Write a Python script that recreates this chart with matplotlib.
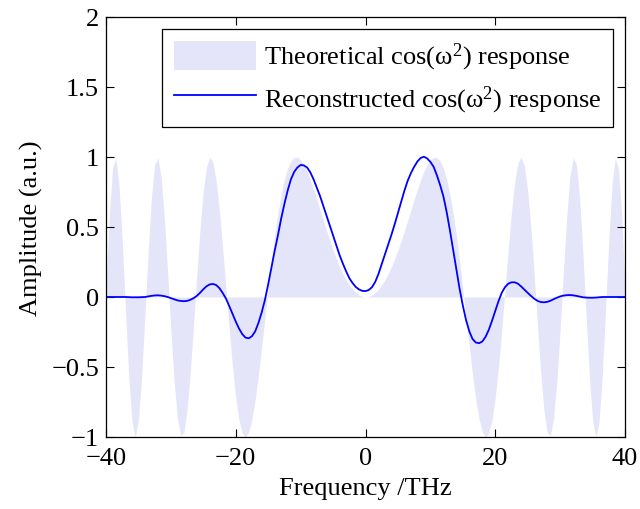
import numpy as np
import matplotlib
matplotlib.use("Agg")
import matplotlib.pyplot as plt

plt.rcParams['font.family'] = ['Liberation Serif', 'DejaVu Serif']
plt.rcParams['mathtext.fontset'] = 'custom'
plt.rcParams['mathtext.rm'] = 'Liberation Serif'
plt.rcParams['mathtext.it'] = 'Liberation Serif:italic'
plt.rcParams['mathtext.default'] = 'rm'

# frequency sample positions (THz)
freq = np.linspace(-40, 40, 161)

theoretical = [
    0.071, 0.578, 0.914, 0.994, 0.803, 0.404, -0.094, -0.563, -0.888, -1.000,
    -0.879, -0.563, -0.129, 0.327, 0.709, 0.945, 0.994, 0.856, 0.564, 0.177,
    -0.234, -0.600, -0.865, -0.991, -0.968, -0.805, -0.533, -0.195, 0.163, 0.493,
    0.760, 0.933, 0.999, 0.959, 0.822, 0.607, 0.341, 0.050, -0.239, -0.501,
    -0.719, -0.879, -0.973, -1.000, -0.963, -0.869, -0.730, -0.555, -0.357, -0.149,
    0.059, 0.258, 0.441, 0.601, 0.735, 0.842, 0.921, 0.971, 0.996, 0.998,
    0.980, 0.945, 0.896, 0.836, 0.769, 0.697, 0.622, 0.547, 0.474, 0.403,
    0.336, 0.274, 0.217, 0.167, 0.123, 0.086, 0.055, 0.031, 0.014, 0.003,
    0.000,
    0.003, 0.014, 0.031, 0.055, 0.086, 0.123, 0.167, 0.217, 0.274, 0.336,
    0.403, 0.474, 0.547, 0.622, 0.697, 0.769, 0.836, 0.896, 0.945, 0.980,
    0.998, 0.996, 0.971, 0.921, 0.842, 0.735, 0.601, 0.441, 0.258, 0.059,
    -0.149, -0.357, -0.555, -0.730, -0.869, -0.963, -1.000, -0.973, -0.879, -0.719,
    -0.501, -0.239, 0.050, 0.341, 0.607, 0.822, 0.959, 0.999, 0.933, 0.760,
    0.493, 0.163, -0.195, -0.533, -0.805, -0.968, -0.991, -0.865, -0.600, -0.234,
    0.177, 0.564, 0.856, 0.994, 0.945, 0.709, 0.327, -0.129, -0.563, -0.879,
    -1.000, -0.888, -0.563, -0.094, 0.404, 0.803, 0.994, 0.914, 0.578, 0.071,
]

reconstructed = [
    # -40 .. -34.5
    0.000, 0.000, 0.000, 0.000, 0.000, 0.000, 0.000, -0.001, -0.002, -0.002, -0.002, -0.001,
    # -34 .. -0.5
    0.000, 0.004, 0.008, 0.011, 0.012, 0.010, 0.006, 0.000, -0.008, -0.016,
    -0.024, -0.028, -0.030, -0.028, -0.020, -0.008, 0.008, 0.030, 0.055, 0.077,
    0.090, 0.093, 0.085, 0.062, 0.028, -0.012, -0.065, -0.120, -0.175, -0.225,
    -0.265, -0.290, -0.295, -0.280, -0.245, -0.185, -0.110, -0.020, 0.090, 0.210,
    0.330, 0.440, 0.560, 0.665, 0.760, 0.840, 0.893, 0.925, 0.943, 0.940,
    0.925, 0.890, 0.840, 0.780, 0.720, 0.650, 0.580, 0.510, 0.440, 0.370,
    0.300, 0.240, 0.185, 0.135, 0.100, 0.072, 0.054, 0.044,
    # 0
    0.042,
    # 0.5 .. 36
    0.050, 0.070, 0.108, 0.165, 0.235, 0.305, 0.375, 0.445, 0.520, 0.600,
    0.680, 0.760, 0.830, 0.885, 0.930, 0.968, 0.993, 1.002, 0.990, 0.965,
    0.930, 0.870, 0.800, 0.720, 0.610, 0.480, 0.340, 0.200, 0.060, -0.060,
    -0.165, -0.245, -0.300, -0.325, -0.330, -0.318, -0.285, -0.235, -0.170, -0.100,
    -0.030, 0.030, 0.070, 0.095, 0.105, 0.105, 0.095, 0.075, 0.052, 0.030,
    0.008, -0.012, -0.027, -0.036, -0.038, -0.035, -0.027, -0.016, -0.005, 0.004,
    0.010, 0.013, 0.014, 0.012, 0.008, 0.003, -0.002, -0.004, -0.005, -0.005,
    -0.004, -0.002,
    # 36.5 .. 40
    0.000, 0.000, 0.000, 0.000, 0.000, 0.000, 0.000, 0.000,
]

xticks = [-40, -20, 0, 20, 40]
xticklabels = ['\u221240', '\u221220', '0', '20', '40']
yticks = [-1, -0.5, 0, 0.5, 1, 1.5, 2]
yticklabels = ['\u22121', '\u22120.5', '0', '0.5', '1', '1.5', '2']

fig = plt.figure(figsize=(6.4, 5.1), dpi=100)
ax = fig.add_axes([106/640, 1-438/510, (625-106)/640, (438-18)/510])

ax.fill_between(freq, 0, theoretical, color='#E5E5FA', linewidth=0,
                label=r'Theoretical cos(ω$^{2}$) response')
ax.plot(freq, reconstructed, color='#0000FF', linewidth=1.3,
        label=r'Reconstructed cos(ω$^{2}$) response')

ax.set_xlim(-40, 40)
ax.set_ylim(-1, 2)
ax.set_xticks(xticks)
ax.set_xticklabels(xticklabels)
ax.set_yticks(yticks)
ax.set_yticklabels(yticklabels)
ax.tick_params(direction='in', length=6, width=0.8, labelsize=19,
               top=True, right=True)
ax.tick_params(axis='x', pad=7)
ax.tick_params(axis='y', pad=5)
for s in ax.spines.values():
    s.set_linewidth(0.9)

ax.set_xlabel('Frequency /THz', fontsize=19, labelpad=6)
ax.set_ylabel('Amplitude (a.u.)', fontsize=19, labelpad=6)

leg = ax.legend(loc='upper right', fontsize=19, frameon=True, fancybox=False,
                edgecolor='black', framealpha=1, handlelength=3.1,
                handleheight=1.3, labelspacing=0.4, borderaxespad=0.45,
                handletextpad=0.3, borderpad=0.45)
leg.get_frame().set_linewidth(0.9)

fig.savefig('out.png', dpi=100)
